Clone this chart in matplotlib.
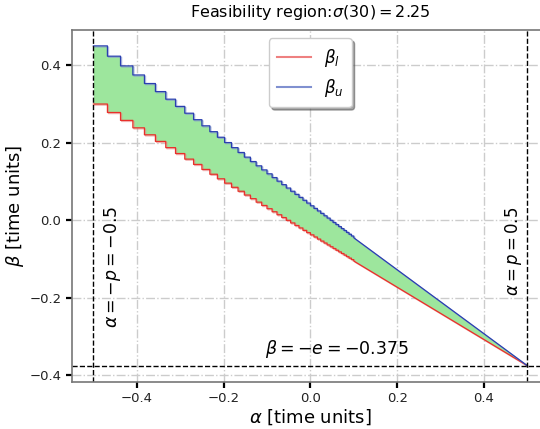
import matplotlib as mpl
mpl.use('Agg')
import matplotlib.pyplot as plt
import matplotlib.patheffects as pe

# step breakpoints in alpha, last one is where the steps get too fine to see
alpha_steps = [-0.5, -0.4677, -0.4375, -0.4091, -0.3824, -0.3571, -0.3333, -0.3108,
               -0.2895, -0.2692, -0.25, -0.2317, -0.2143, -0.1977, -0.1818, -0.1667,
               -0.1522, -0.1383, -0.125, -0.1122, -0.1, -0.0882, -0.0769, -0.066,
               -0.0556, -0.0455, -0.0357, -0.0263, -0.0172, -0.0085, 0.0, 0.0082,
               0.0161, 0.0238, 0.0313, 0.0385, 0.0455, 0.0522, 0.0588, 0.0652,
               0.0714, 0.0775, 0.0833, 0.089, 0.0946, 0.1]
beta_u = [0.45, 0.4234, 0.3984, 0.375, 0.3529, 0.3321, 0.3125, 0.2939,
          0.2763, 0.2596, 0.2438, 0.2287, 0.2143, 0.2006, 0.1875, 0.175,
          0.163, 0.1516, 0.1406, 0.1301, 0.12, 0.1103, 0.101, 0.092,
          0.0833, 0.075, 0.067, 0.0592, 0.0517, 0.0445, 0.0375, 0.0307,
          0.0242, 0.0179, 0.0117, 0.0058, 0.0, -0.0056, -0.011, -0.0163,
          -0.0214, -0.0264, -0.0313, -0.036, -0.0405, -0.045]
beta_l = [0.3, 0.2782, 0.2578, 0.2386, 0.2206, 0.2036, 0.1875, 0.1723,
          0.1579, 0.1442, 0.1313, 0.1189, 0.1071, 0.0959, 0.0852, 0.075,
          0.0652, 0.0559, 0.0469, 0.0383, 0.03, 0.0221, 0.0144, 0.0071,
          0.0, -0.0068, -0.0134, -0.0197, -0.0259, -0.0318, -0.0375, -0.043,
          -0.0484, -0.0536, -0.0586, -0.0635, -0.0682, -0.0728, -0.0772, -0.0815,
          -0.0857, -0.0898, -0.0938, -0.0976, -0.1014, -0.105]
p = 0.5
e = 0.375

# build staircase paths (post style), then straight run to (p, -e)
xs, yu, yl = [], [], []
for i in range(len(alpha_steps) - 1):
    xs += [alpha_steps[i], alpha_steps[i + 1]]
    yu += [beta_u[i], beta_u[i]]
    yl += [beta_l[i], beta_l[i]]
xs += [alpha_steps[-1], p]
yu += [beta_u[-1], -e]
yl += [beta_l[-1], -e]

fig = plt.figure(figsize=(5.4, 4.29), dpi=100)
ax = fig.add_axes([0.1328, 0.1103, 0.884, 0.82])

ax.fill_between(xs, yl, yu, color='#9de69d', lw=0)
shadow_r = [pe.SimpleLineShadow(offset=(0.8, -0.8), shadow_color='#e88080', alpha=0.6), pe.Normal()]
shadow_b = [pe.SimpleLineShadow(offset=(0.8, -0.8), shadow_color='#8090d0', alpha=0.6), pe.Normal()]
ax.plot(xs, yl, color='#e8302a', lw=0.9, path_effects=shadow_r)
ax.plot(xs, yu, color='#2a3fb0', lw=0.9, path_effects=shadow_b)
# legend handles (lighter, as in the reference)
ax.plot([], [], color='#ee8080', lw=1.5, label=r'$\beta_l$')
ax.plot([], [], color='#8090d0', lw=1.5, label=r'$\beta_u$')

ax.axvline(-p, color='k', ls='--', lw=1)
ax.axvline(p, color='k', ls='--', lw=1)
ax.axhline(-e, color='k', ls='--', lw=1)

ax.text(-0.455, -0.12, r'$\alpha = -p = -0.5$', rotation=90, ha='center', va='center', fontsize=12.5)
ax.text(0.468, -0.08, r'$\alpha = p = 0.5$', rotation=90, ha='center', va='center', fontsize=12)
ax.text(0.062, -0.333, r'$\beta = -e = -0.375$', ha='center', va='center', fontsize=12.5)

ax.set_xlim(-0.55, 0.55)
ax.set_ylim(-0.41625, 0.49125)
ax.grid(True, ls='-.', color='#cccccc', lw=1)
ax.set_axisbelow(True)
for s in ax.spines.values():
    s.set_color('#777777')
    s.set_linewidth(1.2)
ax.tick_params(direction='out', length=4, width=1.6, color='k', labelsize=9.5, labelcolor='#222222')
ax.set_xticks([-0.4, -0.2, 0.0, 0.2, 0.4])
ax.set_yticks([-0.4, -0.2, 0.0, 0.2, 0.4])
ax.set_xlabel(r'$\alpha$ [time units]', fontsize=13, labelpad=2)
ax.set_ylabel(r'$\beta$ [time units]', fontsize=13, labelpad=2)
ax.set_title(r'Feasibility region:$\sigma(30) = 2.25$', fontsize=11.5, pad=9)
ax.legend(loc='upper center', fontsize=12, shadow=True, fancybox=True, handlelength=2.0,
          handletextpad=0.8, borderpad=0.5)

fig.savefig('out.png', dpi=100)
